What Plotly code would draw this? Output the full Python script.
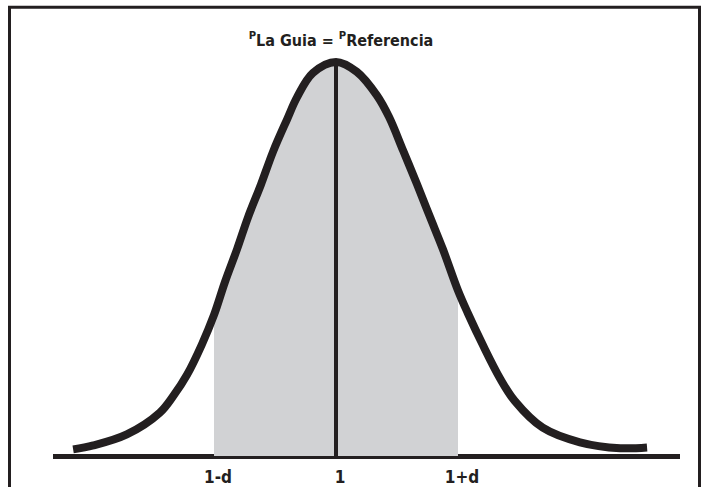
import plotly.graph_objects as go

# bell curve (x in units of the axis, y relative to peak)
curve_x = [0.569, 0.602, 0.657, 0.711, 0.733, 0.756, 0.780, 0.800, 0.818, 0.838,
           0.856, 0.877, 0.897, 0.920, 0.936, 0.962, 1.000, 1.034, 1.067, 1.087,
           1.110, 1.133, 1.154, 1.175, 1.200, 1.216, 1.241, 1.269, 1.293, 1.339,
           1.400, 1.466, 1.510]
curve_y = [0.017, 0.027, 0.055, 0.110, 0.152, 0.207, 0.283, 0.358, 0.442, 0.526,
           0.607, 0.689, 0.773, 0.855, 0.910, 0.972, 1.000, 0.975, 0.915, 0.860,
           0.775, 0.689, 0.607, 0.526, 0.420, 0.363, 0.281, 0.197, 0.140, 0.072,
           0.035, 0.020, 0.022]

band_lo = 0.8   # 1-d
band_hi = 1.2   # 1+d
center = 1.0
tick_vals = [0.8, 1.0, 1.2]
tick_text = ["1-d", "1", "1+d"]
title_text = "<sup>P</sup>La Guia = <sup>P</sup>Referencia"

ink = "#231f20"
shade = "#d1d2d4"
font_name = "DejaVu Sans Condensed, Liberation Sans Narrow, sans-serif"

# shaded region under the curve between 1-d and 1+d
band_pts = [(x, y) for x, y in zip(curve_x, curve_y) if band_lo <= x <= band_hi]
band_x = [band_lo] + [p[0] for p in band_pts] + [band_hi]
band_y = [0] + [p[1] for p in band_pts] + [0]

fig = go.Figure()
fig.add_trace(go.Scatter(x=band_x, y=band_y, fill="toself", fillcolor=shade,
                         mode="lines", line=dict(width=0), hoverinfo="skip"))
fig.add_trace(go.Scatter(x=[center, center], y=[0, max(curve_y)], mode="lines",
                         line=dict(color=ink, width=4)))
fig.add_trace(go.Scatter(x=curve_x, y=curve_y, mode="lines",
                         line=dict(color=ink, width=8, shape="spline", smoothing=1.0)))

# plot area: x 53..680 px, y 0..469 px
fig.update_layout(
    width=703, height=487,
    margin=dict(l=53, r=23, t=0, b=18),
    paper_bgcolor="white", plot_bgcolor="white",
    showlegend=False,
    title=dict(text=title_text, x=341 / 703, xanchor="center",
               y=1 - 40 / 487, yanchor="middle",
               font=dict(family=font_name, size=16, color=ink, weight="bold")),
    font=dict(family=font_name, color=ink),
)
fig.update_xaxes(range=[0.536, 1.564], tickvals=tick_vals, ticktext=tick_text,
                 showgrid=False, zeroline=False, showline=False, ticks="",
                 ticklabelstandoff=6, ticklabelshift=4,
                 tickfont=dict(family=font_name, size=17, color=ink, weight="bold"),
                 fixedrange=True)
fig.update_yaxes(range=[-0.0074, 1.157], showgrid=False, showticklabels=False,
                 zeroline=True, zerolinecolor=ink, zerolinewidth=5, fixedrange=True)

# outer frame of the figure (bottom runs off the picture)
fig.add_shape(type="rect", xref="paper", yref="paper",
              x0=(9.5 - 53) / 627, x1=(699.5 - 53) / 627,
              y0=-0.1, y1=(469 - 7.5) / 469,
              line=dict(color=ink, width=3), fillcolor="rgba(0,0,0,0)")

fig.write_html("out.html", config={"displayModeBar": False},
               post_script="document.body.style.margin='0px';")
